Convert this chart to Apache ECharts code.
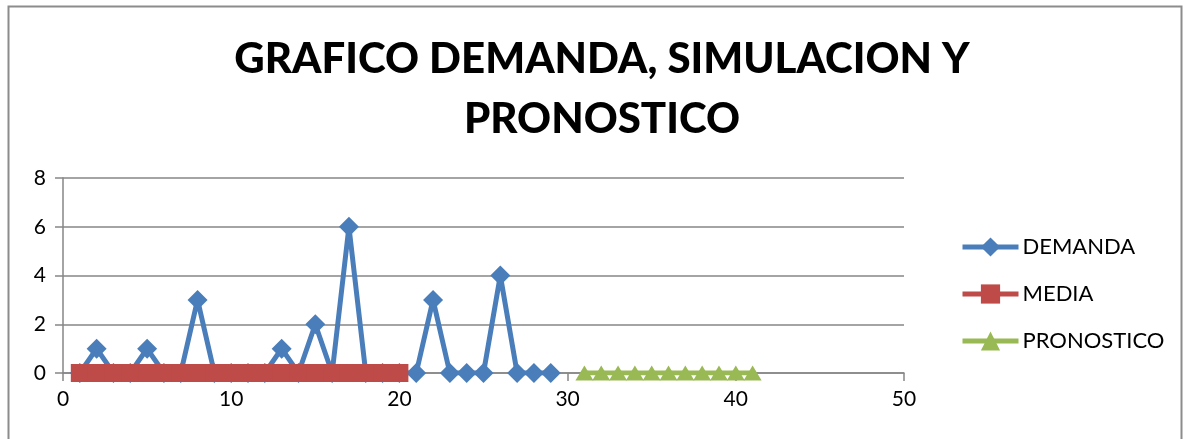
<!DOCTYPE html>
<html>
<head>
<meta charset="utf-8">
<script src="https://cdn.jsdelivr.net/npm/echarts@6/dist/echarts.min.js"></script>
<style>
  html, body { margin: 0; padding: 0; background: #fff; }
  #chart { width: 1188px; height: 439px; }
</style>
</head>
<body>
<div id="chart"></div>
<script>
// Demand per period
const demandaX = [1,2,3,4,5,6,7,8,9,10,11,12,13,14,15,16,17,18,19,20,21,22,23,24,25,26,27,28,29];
const demandaY = [0,1,0,0,1,0,0,3,0,0,0,0,1,0,2,0,6,0,0,0,0,3,0,0,0,4,0,0,0];
// Mean of the simulation
const mediaX = [1,2,3,4,5,6,7,8,9,10,11,12,13,14,15,16,17,18,19,20];
const mediaY = [0,0,0,0,0,0,0,0,0,0,0,0,0,0,0,0,0,0,0,0];
// Forecast
const pronosticoX = [31,32,33,34,35,36,37,38,39,40,41];
const pronosticoY = [0,0,0,0,0,0,0,0,0,0,0];

const xTicks = { min: 0, max: 50, interval: 10 };
const yTicks = { min: 0, max: 8, interval: 2 };

const pairs = (xs, ys) => xs.map((x, i) => [x, ys[i]]);
const FONT = 'Lato, "Open Sans", sans-serif';
const AXIS_GRAY = '#868686';

const chart = echarts.init(document.getElementById('chart'), null, { renderer: 'canvas' });
chart.setOption({
  backgroundColor: '#ffffff',
  animation: false,
  graphic: [{
    type: 'rect',
    shape: { x: 8.5, y: 6.5, width: 1173, height: 450 },
    style: { fill: 'none', stroke: '#8c8c8c', lineWidth: 2 },
    silent: true
  }],
  title: {
    text: 'GRAFICO DEMANDA, SIMULACION Y\nPRONOSTICO',
    left: 597,
    top: 24,
    textAlign: 'center',
    textStyle: { fontFamily: FONT, fontWeight: 900, fontSize: 42, lineHeight: 60, color: '#000' }
  },
  legend: {
    orient: 'vertical',
    left: 955,
    top: 231,
    itemWidth: 56,
    itemHeight: 24,
    itemGap: 25,
    lineStyle: { width: 5 },
    textStyle: { fontFamily: FONT, fontSize: 22, color: '#000', padding: [0, 0, 0, -1] },
    data: ['DEMANDA', 'MEDIA', 'PRONOSTICO']
  },
  grid: { left: 63, right: 284, top: 178, bottom: 66, containLabel: false },
  xAxis: {
    type: 'value',
    min: xTicks.min, max: xTicks.max, interval: xTicks.interval,
    axisLine: { onZero: false, lineStyle: { color: AXIS_GRAY, width: 1.5 } },
    axisTick: { show: true, length: 8, inside: false, lineStyle: { color: AXIS_GRAY, width: 1.5 } },
    axisLabel: { fontFamily: FONT, fontSize: 21, color: '#000', margin: 16 },
    splitLine: { show: false }
  },
  yAxis: {
    type: 'value',
    min: yTicks.min, max: yTicks.max, interval: yTicks.interval,
    axisLine: { show: true, lineStyle: { color: AXIS_GRAY, width: 1.5 } },
    axisTick: { show: true, length: 8, lineStyle: { color: AXIS_GRAY, width: 1.5 } },
    axisLabel: { fontFamily: FONT, fontSize: 21, color: '#000', margin: 17 },
    splitLine: { show: true, lineStyle: { color: AXIS_GRAY, width: 1.5 } }
  },
  series: [
    {
      name: 'DEMANDA', type: 'line',
      data: pairs(demandaX, demandaY),
      symbol: 'diamond', symbolSize: 20,
      color: '#4a7ebb',
      lineStyle: { width: 5, color: '#4a7ebb' },
      itemStyle: { color: '#4a7ebb' }
    },
    {
      name: 'MEDIA', type: 'line',
      data: pairs(mediaX, mediaY),
      symbol: 'rect', symbolSize: 18,
      color: '#be4b48',
      lineStyle: { width: 5, color: '#be4b48' },
      itemStyle: { color: '#be4b48' }
    },
    {
      name: 'PRONOSTICO', type: 'line',
      data: pairs(pronosticoX, pronosticoY),
      symbol: 'triangle', symbolSize: [18, 15],
      color: '#98b954',
      lineStyle: { width: 5, color: '#98b954' },
      itemStyle: { color: '#98b954' }
    }
  ]
});
</script>
</body>
</html>
